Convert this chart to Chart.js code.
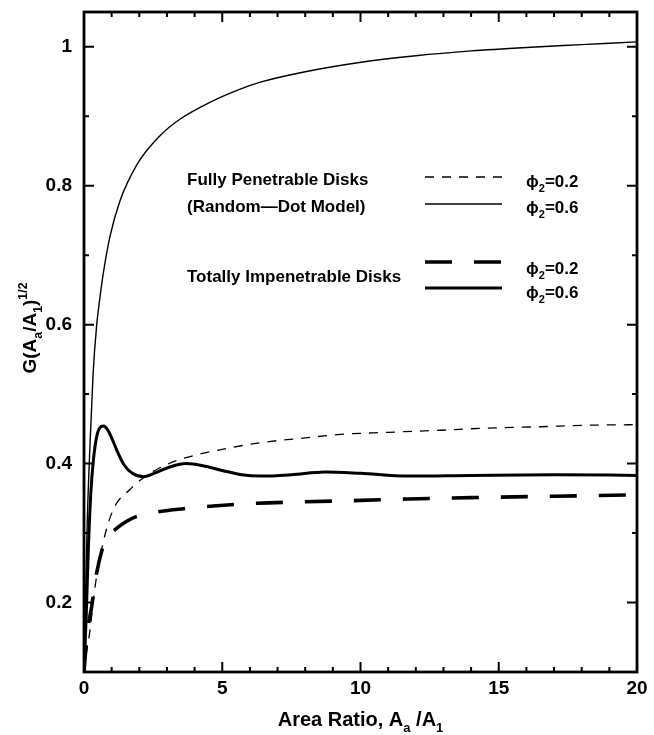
<!DOCTYPE html>
<html>
<head>
<meta charset="utf-8">
<script src="https://cdn.jsdelivr.net/npm/chart.js@4.4.0/dist/chart.umd.min.js"></script>
<style>
  html, body { margin: 0; padding: 0; background: #fff; }
  #wrap { width: 654px; height: 735px; }
</style>
</head>
<body>
<div id="wrap"><canvas id="chart" width="654" height="735"></canvas></div>
<script>
// fully penetrable disks (random-dot model), phi2 = 0.2  -> thin dashed
const fp02X = [0, 0.1, 0.22, 0.4, 0.69, 1.06, 1.67, 2.2, 2.75, 3.48, 4.68, 6.38, 8, 9.28, 11, 12.9, 14.5, 16.5, 18, 20];
const fp02Y = [0.1, 0.13, 0.161, 0.223, 0.286, 0.334, 0.363, 0.381, 0.394, 0.406, 0.418, 0.43, 0.437, 0.442, 0.445, 0.448, 0.451, 0.453, 0.455, 0.456];

// fully penetrable disks, phi2 = 0.6  -> thin solid
const fp06X = [0, 0.05, 0.12, 0.22, 0.33, 0.46, 0.58, 0.69, 0.94, 1.3, 1.91, 2.75, 3.48, 4.5, 5.65, 6.38, 8, 9.9, 12, 14, 16, 18, 20];
const fp06Y = [0.1, 0.2, 0.32, 0.43, 0.53, 0.6, 0.64, 0.672, 0.727, 0.778, 0.83, 0.872, 0.896, 0.919, 0.939, 0.949, 0.964, 0.977, 0.987, 0.994, 0.999, 1.003, 1.007];

// totally impenetrable disks, phi2 = 0.2  -> thick dashed
const ti02X = [0, 0.1, 0.28, 0.46, 0.7, 0.85, 1.12, 1.5, 1.91, 2.75, 3.6, 4.68, 6.26, 8, 10, 11.7, 14, 17, 20];
const ti02Y = [0.1, 0.15, 0.195, 0.243, 0.282, 0.295, 0.305, 0.316, 0.324, 0.331, 0.335, 0.339, 0.343, 0.345, 0.347, 0.349, 0.351, 0.353, 0.355];

// totally impenetrable disks, phi2 = 0.6  -> thick solid
const ti06X = [0, 0.08, 0.16, 0.25, 0.34, 0.45, 0.58, 0.7, 0.85, 1.0, 1.2, 1.45, 1.75, 2.15, 2.6, 3.1, 3.7, 4.3, 5.0, 5.7, 6.4, 7.5, 8.7, 10, 11.7, 14, 17, 20];
const ti06Y = [0.1, 0.18, 0.28, 0.36, 0.405, 0.437, 0.452, 0.454, 0.449, 0.437, 0.418, 0.398, 0.386, 0.381, 0.387, 0.395, 0.4, 0.397, 0.39, 0.384, 0.382, 0.384, 0.388, 0.386, 0.382, 0.383, 0.384, 0.383];

const xTicks = [0, 5, 10, 15, 20];
const yTicks = [0.2, 0.4, 0.6, 0.8, 1];

const FONT = "'Liberation Sans', Arial, sans-serif";

function pts(xs, ys) {
  return xs.map((x, i) => ({ x: x, y: ys[i] }));
}

function fontStr(size) {
  return "bold " + size + "px " + FONT;
}

// text with sub/superscripts: parts = [[text, mode]]
function richWidth(ctx, parts, size) {
  let w = 0;
  for (const p of parts) {
    ctx.font = fontStr(p[1] ? size * 0.65 : size);
    w += ctx.measureText(p[0]).width;
  }
  return w;
}
function drawRich(ctx, parts, x, y, size) {
  let cx = x;
  for (const p of parts) {
    const fs = p[1] ? size * 0.65 : size;
    ctx.font = fontStr(fs);
    let dy = 0;
    if (p[1] === "sub") dy = size * 0.3;
    if (p[1] === "sup") dy = -size * 0.45;
    ctx.fillText(p[0], cx, y + dy);
    cx += ctx.measureText(p[0]).width;
  }
}

const framePlugin = {
  id: "frame",
  afterDatasetsDraw(chart) {
    const ctx = chart.ctx;
    const a = chart.chartArea;
    const xs = chart.scales.x, ys = chart.scales.y;
    ctx.save();
    ctx.strokeStyle = "#000";
    ctx.lineWidth = 2.8;
    ctx.strokeRect(a.left, a.top, a.right - a.left, a.bottom - a.top);
    ctx.lineWidth = 2;
    ctx.beginPath();
    for (let v = 1; v < 20; v++) {
      const px = xs.getPixelForValue(v);
      const len = v % 5 === 0 ? 10 : 5;
      ctx.moveTo(px, a.bottom); ctx.lineTo(px, a.bottom - len);
      ctx.moveTo(px, a.top); ctx.lineTo(px, a.top + len);
    }
    for (let k = 2; k <= 10; k++) {
      const py = ys.getPixelForValue(k / 10);
      const len = k % 2 === 0 ? 10 : 5;
      ctx.moveTo(a.left, py); ctx.lineTo(a.left + len, py);
      ctx.moveTo(a.right, py); ctx.lineTo(a.right - len, py);
    }
    ctx.stroke();
    ctx.restore();
  },
  afterDraw(chart) {
    const ctx = chart.ctx;
    const a = chart.chartArea;
    ctx.save();
    ctx.fillStyle = "#000";
    ctx.textBaseline = "alphabetic";

    // x axis title
    const xt = [["Area Ratio, A"], ["a", "sub"], [" /A"], ["1", "sub"]];
    const xw = richWidth(ctx, xt, 20);
    drawRich(ctx, xt, (a.left + a.right) / 2 - xw / 2, 726, 20);

    // y axis title
    const yt = [["G(A"], ["a", "sub"], ["/A"], ["1", "sub"], [")"], ["1/2", "sup"]];
    const yw = richWidth(ctx, yt, 19);
    ctx.save();
    ctx.translate(36, 328);
    ctx.rotate(-Math.PI / 2);
    drawRich(ctx, yt, -yw / 2, 0, 19);
    ctx.restore();

    // legend
    ctx.font = fontStr(17);
    ctx.textBaseline = "middle";
    ctx.fillText("Fully Penetrable Disks", 187, 180);
    ctx.fillText("(Random\u2014Dot Model)", 187, 207);
    ctx.fillText("Totally Impenetrable Disks", 187, 277);
    const rows = [177, 204, 262, 288];
    const labelY = [181, 207, 268, 292];
    chart.data.datasets.forEach((ds, i) => {
      ctx.save();
      ctx.strokeStyle = "#000";
      ctx.lineWidth = ds.borderWidth;
      ctx.setLineDash(ds.borderDash || []);
      ctx.beginPath();
      ctx.moveTo(425, rows[i]);
      ctx.lineTo(502, rows[i]);
      ctx.stroke();
      ctx.restore();
      ctx.textBaseline = "alphabetic";
      drawRich(ctx, [["\u03d5"], ["2", "sub"], ["=" + ds.phi]], 526, labelY[i] + 6, 17);
    });
    ctx.restore();
  }
};

new Chart(document.getElementById("chart"), {
  type: "line",
  data: {
    datasets: [
      { label: "Fully Penetrable, phi2=0.2", phi: "0.2", data: pts(fp02X, fp02Y),
        borderColor: "#000", borderWidth: 1.3, borderDash: [9, 8] },
      { label: "Fully Penetrable, phi2=0.6", phi: "0.6", data: pts(fp06X, fp06Y),
        borderColor: "#000", borderWidth: 1.4 },
      { label: "Totally Impenetrable, phi2=0.2", phi: "0.2", data: pts(ti02X, ti02Y),
        borderColor: "#000", borderWidth: 3.6, borderDash: [27, 22] },
      { label: "Totally Impenetrable, phi2=0.6", phi: "0.6", data: pts(ti06X, ti06Y),
        borderColor: "#000", borderWidth: 3 }
    ]
  },
  options: {
    responsive: false,
    animation: false,
    parsing: false,
    elements: {
      point: { radius: 0 },
      line: { cubicInterpolationMode: "monotone", borderCapStyle: "butt" }
    },
    layout: { padding: { top: 12, right: 17, left: 0, bottom: 0 } },
    plugins: { legend: { display: false }, tooltip: { enabled: false } },
    scales: {
      x: {
        type: "linear", min: 0, max: 20,
        grid: { display: false, drawTicks: false, tickLength: 0 },
        border: { display: false },
        afterBuildTicks: (s) => { s.ticks = xTicks.map((v) => ({ value: v })); },
        afterFit: (s) => { s.height = 63; s.paddingLeft = 0; s.paddingRight = 0; },
        ticks: {
          color: "#000", padding: 5, maxRotation: 0, autoSkip: false,
          font: { family: FONT, size: 19, weight: "bold" },
          callback: (v) => String(v)
        }
      },
      y: {
        type: "linear", min: 0.1, max: 1.05,
        grid: { display: false, drawTicks: false, tickLength: 0 },
        border: { display: false },
        afterBuildTicks: (s) => { s.ticks = yTicks.map((v) => ({ value: v })); },
        afterFit: (s) => { s.width = 84; s.paddingTop = 0; s.paddingBottom = 0; },
        ticks: {
          color: "#000", padding: 12, autoSkip: false,
          font: { family: FONT, size: 19, weight: "bold" },
          callback: (v) => (v === 1 ? "1" : v.toFixed(1))
        }
      }
    }
  },
  plugins: [framePlugin]
});
</script>
</body>
</html>
